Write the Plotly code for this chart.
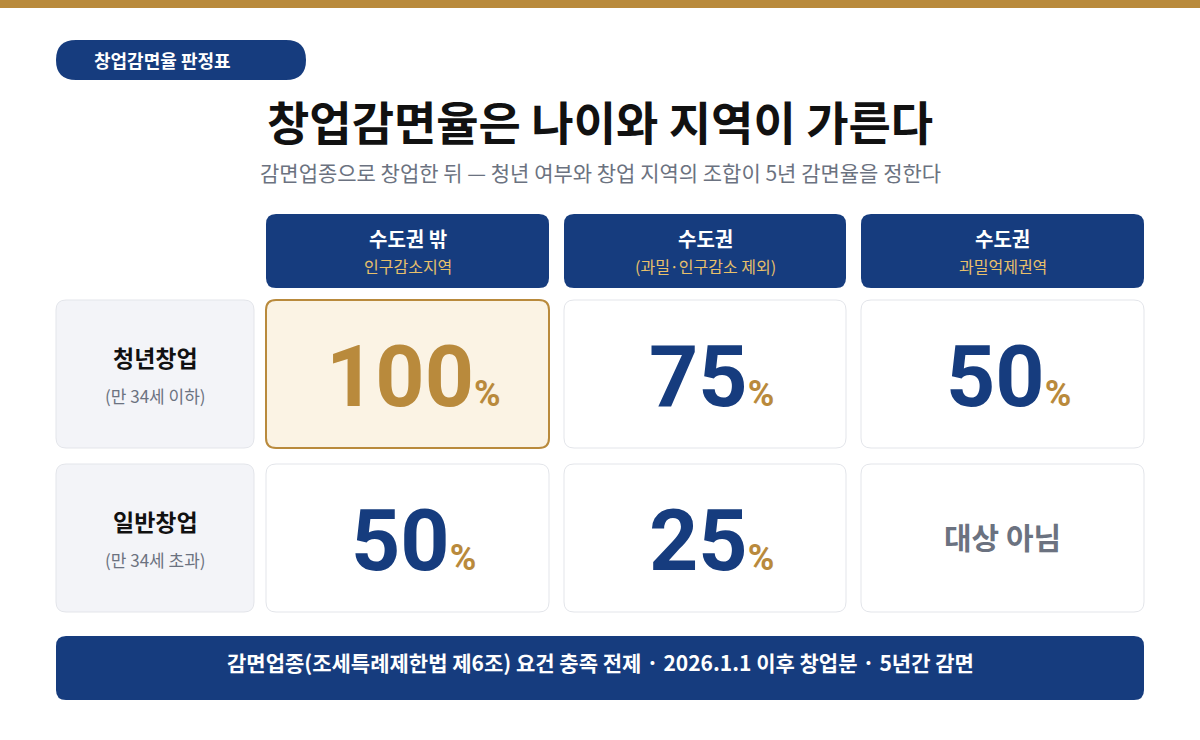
import plotly.graph_objects as go

NAVY = "#163C7E"
GOLD = "#B98A3C"
GRAY = "#6B7280"
FONT = "Noto Sans CJK KR"

col_titles = ["수도권 밖", "수도권", "수도권"]
col_subs = ["인구감소지역", "(과밀·인구감소 제외)", "과밀억제권역"]
row_titles = ["청년창업", "일반창업"]
row_subs = ["(만 34세 이하)", "(만 34세 초과)"]
rates = [[100, 75, 50], [50, 25, None]]
na_text = "대상 아님"

col_x = [(266, 549), (564, 846), (861, 1144)]
row_y = [(300, 448), (464, 612)]

fig = go.Figure()
shapes = []
ann = []


def rect(x0, y0, x1, y1, fill, line=None, lw=1, r=10):
    p = (f"M {x0 + r} {y0} L {x1 - r} {y0} Q {x1} {y0} {x1} {y0 + r} "
         f"L {x1} {y1 - r} Q {x1} {y1} {x1 - r} {y1} L {x0 + r} {y1} "
         f"Q {x0} {y1} {x0} {y1 - r} L {x0} {y0 + r} Q {x0} {y0} {x0 + r} {y0} Z")
    shapes.append(dict(type="path", xref="x", yref="y", path=p, fillcolor=fill,
                       line=dict(color=line or fill, width=lw if line else 0), layer="below"))


def text(x, y, s, size, color, bold=False, family=FONT):
    ann.append(dict(x=x, y=y, xref="x", yref="y", text=f"<b>{s}</b>" if bold else s, showarrow=False,
                    font=dict(size=size, color=color, family=family), xanchor="center", yanchor="middle"))


# top bar
shapes.append(dict(type="rect", xref="x", yref="y", x0=0, y0=0, x1=1200, y1=8,
                   fillcolor=GOLD, line=dict(width=0)))
rect(56, 40, 306, 80, NAVY, r=20)
text(162, 60, "창업감면율 판정표", 18, "white", True)
text(600, 120, "창업감면율은 나이와 지역이 가른다", 46, "#111111", True)
text(600, 172, "감면업종으로 창업한 뒤 — 청년 여부와 창업 지역의 조합이 5년 감면율을 정한다", 21, GRAY)

for (x0, x1), t, s in zip(col_x, col_titles, col_subs):
    rect(x0, 214, x1, 288, NAVY)
    text((x0 + x1) / 2, 238, t, 20, "white", True)
    text((x0 + x1) / 2, 266, s, 16, "#E8C06A")

for i, ((y0, y1), t, s) in enumerate(zip(row_y, row_titles, row_subs)):
    rect(56, y0, 254, y1, "#F3F4F8", "#E3E5EA")
    text(155, (y0 + y1) / 2 - 17, t, 23, "#111111", True)
    text(155, (y0 + y1) / 2 + 21, s, 17, GRAY)
    for j, (x0, x1) in enumerate(col_x):
        v = rates[i][j]
        if i == 0 and j == 0:
            rect(x0, y0, x1, y1, "#FBF3E4", GOLD, 2)
            ncol = GOLD
        else:
            rect(x0, y0, x1, y1, "white", "#E3E5EA")
            ncol = NAVY
        cx, cy = (x0 + x1) / 2, (y0 + y1) / 2
        if v is None:
            text(cx, cy - 2, na_text, 30, GRAY, True)
        else:
            s = (f"<b><span style='font-size:86px;color:{ncol}'>{v}</span>"
                 f"<span style='font-size:36px;color:{GOLD}'>%</span></b>")
            ann.append(dict(x=cx + 6, y=cy + 2, xref="x", yref="y", text=s, showarrow=False,
                            font=dict(family="Roboto", size=36, color=ncol),
                            xanchor="center", yanchor="middle"))

rect(56, 636, 1144, 700, NAVY)
text(600, 662, "감면업종(조세특례제한법 제6조) 요건 충족 전제 · 2026.1.1 이후 창업분 · 5년간 감면", 21, "white", True)

fig.update_layout(width=1200, height=740, margin=dict(l=0, r=0, t=0, b=0),
                  paper_bgcolor="white", plot_bgcolor="white", shapes=shapes, annotations=ann,
                  showlegend=False)
fig.update_xaxes(range=[0, 1200], visible=False, fixedrange=True)
fig.update_yaxes(range=[740, 0], visible=False, fixedrange=True)
fig.write_html("out.html", config={"displayModeBar": False},
               post_script="document.body.style.margin='0';document.body.style.overflow='hidden';")
